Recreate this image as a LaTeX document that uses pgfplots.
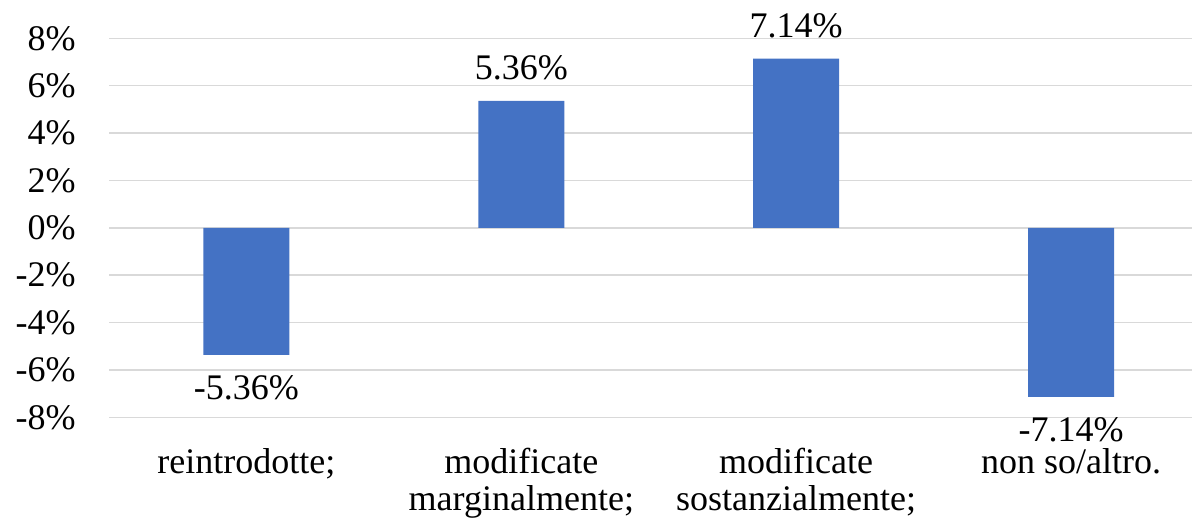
\documentclass[border=0pt]{standalone}
\usepackage{fontspec}
\setmainfont{Liberation Serif}
\usepackage{pgfplots}
\pgfplotsset{compat=1.18}
\definecolor{barblue}{HTML}{4472C4}
\definecolor{gridgray}{HTML}{D9D9D9}
\begin{document}
\fontsize{18}{18.5}\selectfont
\begin{tikzpicture}
\path[use as bounding box] (0,0) rectangle (596pt,260.5pt);
\begin{axis}[
    at={(54.5pt,51.85pt)}, anchor=south west,
    scale only axis,
    width=541.5pt, height=189.5pt,
    xmin=-0.5, xmax=3.44,
    ymin=-8, ymax=8,
    enlargelimits=false,
    axis line style={draw=none},
    major tick length=0pt,
    ytick={-8,-6,-4,-2,0,2,4,6,8},
    yticklabels={-8\%,-6\%,-4\%,-2\%,0\%,2\%,4\%,6\%,8\%},
    xtick={0,1,2,3},
    xticklabels={reintrodotte;, modificate\\marginalmente;, modificate\\sostanzialmente;, non so/altro.},
    ymajorgrids,
    major grid style={gridgray, line width=0.7pt},
    yticklabel style={anchor=east, inner sep=0pt, xshift=-16.5pt},
    xticklabel style={anchor=north, inner sep=0pt, align=center, yshift=-15.2pt},
    ybar, bar width=0.313,
    nodes near coords={\pgfmathprintnumber[fixed, precision=2, fixed zerofill, assume math mode=true]{\pgfplotspointmeta}\%},
    every node near coord/.append style={inner sep=10pt, black},
    clip=false,
]
\addplot[fill=barblue, draw=none] coordinates {
    (0,-5.36) (1,5.36) (2,7.14) (3,-7.14)
};
\end{axis}
\end{tikzpicture}
\end{document}
